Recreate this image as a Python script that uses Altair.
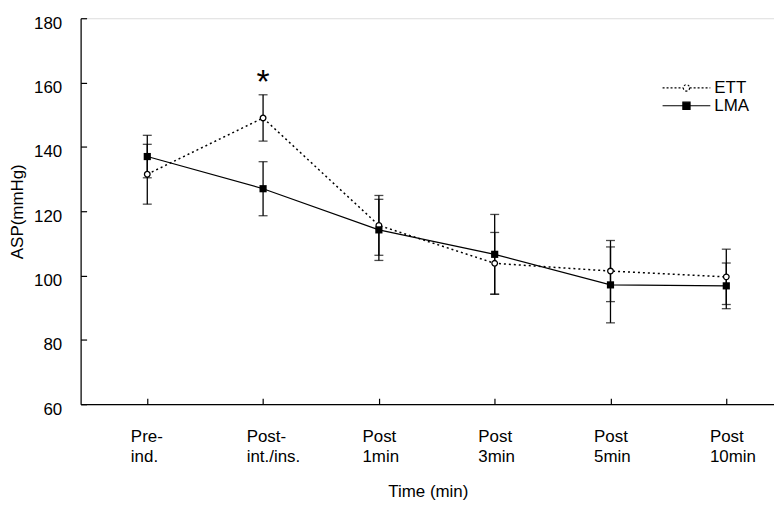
import altair as alt
import pandas as pd

# ---- data ----
categories = ["Pre-\nind.", "Post-\nint./ins.", "Post\n1min", "Post\n3min", "Post\n5min", "Post\n10min"]
series_names = ["ETT", "LMA"]
ett_mean = [131.5, 149.0, 115.6, 103.8, 101.4, 99.6]
ett_sd = [9.3, 7.2, 9.3, 9.6, 9.5, 8.6]
lma_mean = [137.0, 127.0, 114.2, 106.6, 97.1, 96.8]
lma_sd = [6.6, 8.4, 9.5, 12.4, 11.8, 7.1]
star_label = "*"
star_category = 1
y_ticks = [60, 80, 100, 120, 140, 160, 180]

rows = []
for i, c in enumerate(categories):
    for s, m, sd in (("ETT", ett_mean[i], ett_sd[i]), ("LMA", lma_mean[i], lma_sd[i])):
        rows.append({"idx": i, "cat": c, "series": s, "mean": m, "lo": m - sd, "hi": m + sd})
df = pd.DataFrame(rows)
star_df = pd.DataFrame([{"idx": star_category, "hi": ett_mean[star_category] + ett_sd[star_category], "t": star_label}])

FONT = "Liberation Sans"
label_expr = "[" + ",".join("[" + ",".join("'" + p + "'" for p in c.split("\n")) + "]" for c in categories) + "][datum.value]"

xscale = alt.Scale(domain=[-0.5756, 5.412], nice=False, zero=False)
yscale = alt.Scale(domain=[60, 180], nice=False, zero=False)

x_main = alt.X("idx:Q", scale=xscale, axis=alt.Axis(
    values=list(range(len(categories))), labelExpr=label_expr, ticks=False, tickSize=0,
    labelAlign="left", labelOffset=-17, labelBaseline="alphabetic", labelPadding=37,
    labelLineHeight=21, labelFontSize=17, labelColor="black", labelFont=FONT,
    title="Time (min)", titleFontSize=17, titleFontWeight="normal", titleColor="black",
    titleFont=FONT, titleX=349, titleY=93, titleAlign="center", titleBaseline="alphabetic",
    domainColor="black", domainWidth=1.2, grid=False, labelFlush=False, labelOverlap=False))
y_main = alt.Y("lo:Q", scale=yscale, axis=alt.Axis(
    values=y_ticks, ticks=False, tickSize=0, labelPadding=19, labelOffset=5,
    labelFontSize=17, labelColor="black", labelFont=FONT,
    title="ASP(mmHg)", titleFontSize=17, titleFontWeight="normal", titleColor="black",
    titleFont=FONT, titleX=-63, titleY=194, titleAngle=270, titleAlign="center",
    titleBaseline="middle", domainColor="black", domainWidth=1.2, grid=False))

x_none = alt.X("idx:Q", scale=xscale, axis=None)

# error bar stems (carry the main axes)
stems = alt.Chart(df).mark_rule(color="black", strokeWidth=1.3).encode(
    x=x_main, y=y_main, y2="hi:Q")

# inward tick marks (secondary axes moved onto the main ones)
tick_axes = alt.Chart(df).mark_rule(opacity=0).encode(
    x=alt.X("idx:Q", scale=xscale, axis=alt.Axis(
        orient="top", offset=-388, values=list(range(len(categories))), labels=False,
        domain=False, ticks=True, tickSize=6, tickColor="black", tickWidth=1.2,
        title=None, grid=False)),
    y=alt.Y("mean:Q", scale=yscale, axis=alt.Axis(
        orient="right", offset=-697, values=y_ticks, labels=False, domain=False,
        ticks=True, tickSize=6, tickColor="black", tickWidth=1.2, title=None, grid=False)))

cap_lo = alt.Chart(df).mark_tick(orient="horizontal", size=9, thickness=1.3, color="black").encode(
    x=x_none, y=alt.Y("lo:Q", scale=yscale, axis=None))
cap_hi = alt.Chart(df).mark_tick(orient="horizontal", size=9, thickness=1.3, color="black").encode(
    x=x_none, y=alt.Y("hi:Q", scale=yscale, axis=None))

line_ett = alt.Chart(df).transform_filter("datum.series == 'ETT'").mark_line(
    color="black", strokeDash=[2, 3], strokeWidth=1.5).encode(
    x=x_none, y=alt.Y("mean:Q", scale=yscale, axis=None))
line_lma = alt.Chart(df).transform_filter("datum.series == 'LMA'").mark_line(
    color="black", strokeWidth=1.2).encode(
    x=x_none, y=alt.Y("mean:Q", scale=yscale, axis=None))

pts_ett = alt.Chart(df).transform_filter("datum.series == 'ETT'").mark_point(
    shape="circle", size=32, filled=True, fill="white", stroke="black", strokeWidth=1.3, opacity=1).encode(
    x=x_none, y=alt.Y("mean:Q", scale=yscale, axis=None))
pts_lma = alt.Chart(df).transform_filter("datum.series == 'LMA'").mark_square(
    size=52, color="black", opacity=1).encode(
    x=x_none, y=alt.Y("mean:Q", scale=yscale, axis=None))

star = alt.Chart(star_df).mark_text(fontSize=34, font=FONT, color="black", baseline="alphabetic",
                                     align="center", dy=-2).encode(
    x=x_none, y=alt.Y("hi:Q", scale=yscale, axis=None), text="t:N")

# legend (line + marker symbols)
ett_path = "M-3,0H-0.4M0.4,0H3M0.4,0A0.4,0.4 0 1 1 -0.4,0A0.4,0.4 0 1 1 0.4,0"
lma_path = "M-3,0H3M-0.45,-0.45H0.45V0.45H-0.45Z"


def leg():
    return alt.Legend(title=None, orient="none", legendX=600, legendY=61,
                      symbolSize=256, symbolStrokeWidth=1.2, symbolStrokeColor="black",
                      symbolOpacity=1, labelOffset=19, labelFontSize=17, labelFont=FONT,
                      labelColor="black", rowPadding=1, padding=0)


legend_layer = alt.Chart(df).transform_filter("false").mark_point(
    filled=True, stroke="black", strokeWidth=1.2, opacity=1).encode(
    x=x_none, y=alt.Y("mean:Q", scale=yscale, axis=None),
    shape=alt.Shape("series:N", scale=alt.Scale(domain=series_names, range=[ett_path, lma_path]), legend=leg()),
    fill=alt.Fill("series:N", scale=alt.Scale(domain=series_names, range=["white", "black"]), legend=leg()),
    stroke=alt.Stroke("series:N", scale=alt.Scale(domain=series_names, range=["black", "black"]), legend=leg()),
    strokeDash=alt.StrokeDash("series:N", scale=alt.Scale(domain=series_names, range=[[2, 2], [1, 0]]),
                              legend=leg()),
)

chart = alt.layer(
    stems, tick_axes, line_ett, line_lma, cap_lo, cap_hi, pts_ett, pts_lma, star, legend_layer
).resolve_axis(x="independent", y="independent").properties(
    width=697, height=388,
    padding={"left": 73, "top": 9, "right": 0, "bottom": 96},
    autosize=alt.AutoSizeParams(type="none"),
    background="white",
).configure_view(stroke=None).configure(font=FONT)

chart.save("out.html", embed_options={"renderer": "svg", "actions": False})
